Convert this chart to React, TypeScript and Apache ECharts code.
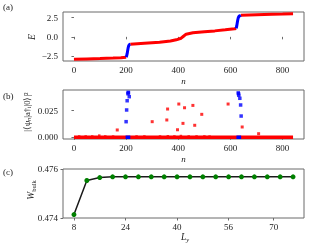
import React, { useEffect, useRef } from "react";
import * as echarts from "echarts";

// Panel (a): eigen-energies E vs index n
const energyRedLow: number[][] = [[0, -2.94], [50, -2.89], [100, -2.84], [150, -2.78], [180, -2.74], [200, -2.66]];
const energyBlueLow: number[][] = [[200, -2.66], [202, -2.5], [204, -2.2], [206, -1.8], [208, -1.4], [210, -1.15], [213, -1.0], [216, -0.96]];
const energyRedMid: number[][] = [[216, -0.96], [270, -0.83], [328, -0.7], [370, -0.55], [392, -0.39], [411, -0.18], [420, 0.08], [430, 0.35], [456, 0.53], [500, 0.66], [540, 0.78], [580, 0.92], [616, 1.05], [622, 1.1]];
const energyBlueHigh: number[][] = [[622, 1.1], [624, 1.4], [626, 1.8], [628, 2.2], [630, 2.5], [633, 2.7], [640, 2.82]];
const energyRedHigh: number[][] = [[640, 2.82], [700, 2.88], [760, 2.94], [800, 2.98], [840, 3.03]];
const nTicks = [0, 200, 400, 600, 800];
const eTicks = [-2.5, 0, 2.5];

// Panel (b): overlap |<psi_n|a_i^dag|0>|^2
const bandRed: number[][] = [[0, 0], [840, 0]];
const bandBlueLow: number[][] = [[198, 0], [216, 0]];
const bandBlueHigh: number[][] = [[623, 0], [641, 0]];
const bumpsRed: number[][] = [[20, 0.0008], [45, 0.0008], [70, 0.0008], [97, 0.0016], [120, 0.0008], [150, 0.0007], [240, 0.0008], [270, 0.0008], [330, 0.0008], [360, 0.001], [385, 0.0008], [410, 0.0012], [440, 0.0008], [470, 0.0008], [500, 0.0008], [520, 0.0007]];
const overlapRed: number[][] = [[166, 0.0069], [300, 0.0147], [356, 0.0163], [359, 0.0266], [397, 0.0071], [402, 0.0313], [418, 0.0131], [424, 0.0278], [456, 0.03], [463, 0.0113], [490, 0.0216], [591, 0.0313], [645, 0.0097], [708, 0.0034]];
const overlapBlue: number[][] = [[200, 0.0147], [202, 0.0257], [204, 0.0344], [212, 0.0382], [207, 0.041], [208, 0.0423], [209, 0.0418], [630, 0.0418], [631, 0.041], [632, 0.0395], [636, 0.0367], [639, 0.0304], [641, 0.02]];
const overlapTicks = [0, 0.025];

// Panel (c): W_bulk vs L_y
const lyValues = [8, 12, 16, 20, 24, 28, 32, 36, 40, 44, 48, 52, 56, 60, 64, 68, 72, 76];
const wBulk = [0.47414, 0.47553, 0.47565, 0.47568, 0.47568, 0.47568, 0.47568, 0.47568, 0.47568, 0.47568, 0.47568, 0.47568, 0.47568, 0.47568, 0.47568, 0.47568, 0.47568, 0.47568];
const lyTicks = [8, 24, 40, 56, 70];
const wTicks = [0.474, 0.476];

const FONT = "Liberation Serif";
const FRAME = "#6b6b6b";
const TXT = "#222";

function xAxisCfg(gridIndex: number, min: number, max: number, ticks: number[]) {
  return {
    type: "value",
    gridIndex,
    min,
    max,
    axisLine: { show: false },
    splitLine: { show: false },
    axisTick: { show: true, length: 2.5, lineStyle: { color: FRAME }, customValues: ticks },
    axisLabel: { show: true, margin: 4, fontFamily: FONT, fontSize: 9, color: TXT, customValues: ticks, formatter: (v: number) => String(v) },
  };
}
function yAxisCfg(gridIndex: number, min: number, max: number, ticks: number[], fmt: (v: number) => string) {
  return {
    type: "value",
    gridIndex,
    min,
    max,
    axisLine: { show: false },
    splitLine: { show: false },
    axisTick: { show: true, length: 2.5, lineStyle: { color: FRAME }, customValues: ticks },
    axisLabel: { show: true, margin: 5, fontFamily: FONT, fontSize: 9, color: TXT, customValues: ticks, formatter: fmt },
  };
}

export default function App() {
  const ref = useRef<HTMLDivElement>(null);
  useEffect(() => {
    if (!ref.current) return;
    const chart = echarts.init(ref.current, undefined, { renderer: "svg" });
    const gridBase = { left: 63, width: 241, height: 49, show: true, borderColor: FRAME, borderWidth: 1, backgroundColor: "transparent" };
    const text = (t: string, x: number, y: number, extra: any = {}) => ({
      type: "text",
      x,
      y,
      rotation: extra.rotation || 0,
      style: {
        text: t,
        fontFamily: FONT,
        fontSize: extra.fontSize || 9,
        fontStyle: extra.italic ? "italic" : "normal",
        fill: TXT,
        align: extra.align || "center",
        verticalAlign: "middle",
        rich: extra.rich,
      },
    });
    chart.setOption({
      animation: false,
      grid: [
        { ...gridBase, top: 12 },
        { ...gridBase, top: 90 },
        { ...gridBase, top: 169 },
      ],
      xAxis: [
        xAxisCfg(0, -42, 882, nTicks),
        xAxisCfg(1, -42, 882, nTicks),
        xAxisCfg(2, 4.6, 79.4, lyTicks),
      ],
      yAxis: [
        yAxisCfg(0, -3.16, 3.25, eTicks, (v: number) => (v === 0 ? "0.0" : v < 0 ? "\u2212" + Math.abs(v).toFixed(1) : v.toFixed(1))),
        yAxisCfg(1, -0.0016, 0.0445, overlapTicks, (v: number) => v.toFixed(3)),
        yAxisCfg(2, 0.474, 0.476, wTicks, (v: number) => v.toFixed(3)),
      ],
      series: [
        { type: "line", xAxisIndex: 0, yAxisIndex: 0, data: energyRedLow, showSymbol: false, lineStyle: { color: "#ff0000", width: 3 }, z: 2 },
        { type: "line", xAxisIndex: 0, yAxisIndex: 0, data: energyRedMid, showSymbol: false, lineStyle: { color: "#ff0000", width: 3 }, z: 2 },
        { type: "line", xAxisIndex: 0, yAxisIndex: 0, data: energyRedHigh, showSymbol: false, lineStyle: { color: "#ff0000", width: 3 }, z: 2 },
        { type: "line", xAxisIndex: 0, yAxisIndex: 0, data: energyBlueLow, showSymbol: false, lineStyle: { color: "#0000ff", width: 3 }, z: 3 },
        { type: "line", xAxisIndex: 0, yAxisIndex: 0, data: energyBlueHigh, showSymbol: false, lineStyle: { color: "#0000ff", width: 3 }, z: 3 },

        { type: "line", xAxisIndex: 1, yAxisIndex: 1, data: bandRed, showSymbol: false, lineStyle: { color: "#ff0000", width: 3.5 }, z: 2 },
        { type: "scatter", xAxisIndex: 1, yAxisIndex: 1, data: bumpsRed, symbol: "rect", symbolSize: 2.5, itemStyle: { color: "#ff0000" }, z: 2 },
        { type: "line", xAxisIndex: 1, yAxisIndex: 1, data: bandBlueLow, showSymbol: false, lineStyle: { color: "#0000ff", width: 3.5 }, z: 3 },
        { type: "line", xAxisIndex: 1, yAxisIndex: 1, data: bandBlueHigh, showSymbol: false, lineStyle: { color: "#0000ff", width: 3.5 }, z: 3 },
        { type: "scatter", xAxisIndex: 1, yAxisIndex: 1, data: overlapRed, symbol: "rect", symbolSize: 3, itemStyle: { color: "#ff0000" }, z: 3 },
        { type: "scatter", xAxisIndex: 1, yAxisIndex: 1, data: overlapBlue, symbol: "rect", symbolSize: 3.5, itemStyle: { color: "#0000ff" }, z: 4 },

        {
          type: "line",
          xAxisIndex: 2,
          yAxisIndex: 2,
          data: lyValues.map((l, i) => [l, wBulk[i]]),
          showSymbol: true,
          symbol: "circle",
          symbolSize: 5,
          lineStyle: { color: "#1a1a1a", width: 1.5 },
          itemStyle: { color: "#008000" },
          z: 3,
        },
      ],
      graphic: [
        text("(a)", 3, 7, { align: "left" }),
        text("(b)", 3, 96, { align: "left" }),
        text("(c)", 3, 172, { align: "left" }),
        text("E", 32, 37, { italic: true, rotation: Math.PI / 2, fontSize: 9.5 }),
        text("|\u27E8\u03C8\u2099|a\u2020\u1D62|0\u27E9|\u00B2", 27, 112, { rotation: Math.PI / 2, fontSize: 8.5 }),
        text("{w|W}{s|bulk}", 31, 190, {
          rotation: Math.PI / 2,
          rich: {
            w: { fontFamily: FONT, fontStyle: "italic", fontSize: 9.5, fill: TXT },
            s: { fontFamily: FONT, fontSize: 6.5, fill: TXT, padding: [5, 0, 0, 0] },
          },
        }),
        text("n", 183.5, 81, { italic: true }),
        text("n", 183.5, 159, { italic: true }),
        text("{w|L}{s|y}", 185, 237, {
          rich: {
            w: { fontFamily: FONT, fontStyle: "italic", fontSize: 9.5, fill: TXT },
            s: { fontFamily: FONT, fontStyle: "italic", fontSize: 6.5, fill: TXT, padding: [5, 0, 0, 0] },
          },
        }),
      ],
    });
    return () => chart.dispose();
  }, []);
  return <div ref={ref} style={{ position: "fixed", left: 0, top: 0, width: 320, height: 248 }} />;
}
